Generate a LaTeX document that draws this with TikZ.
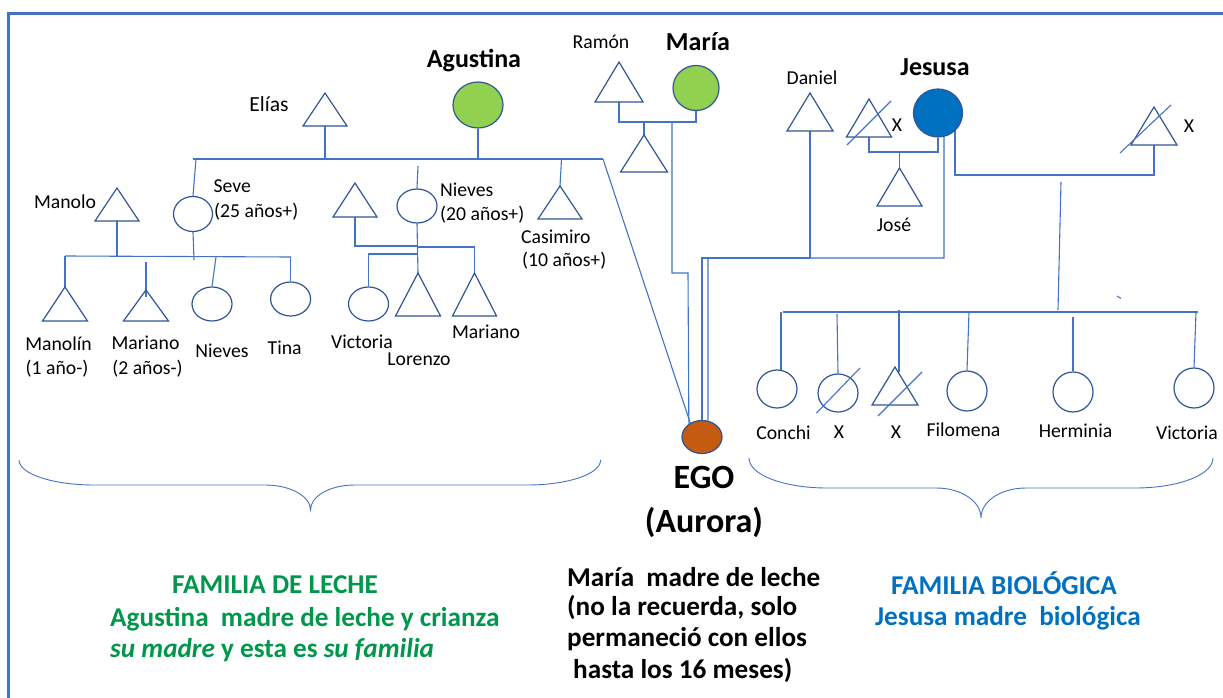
\documentclass[tikz,border=0pt]{standalone}
\usepackage{fontspec}
\setmainfont{Carlito}
\usetikzlibrary{shapes.geometric}
\definecolor{lineblue}{HTML}{4472C4}
\definecolor{shapeblue}{HTML}{2F5597}
\definecolor{lgreen}{HTML}{92D050}
\definecolor{jblue}{HTML}{0070C0}
\definecolor{egoor}{HTML}{C55A11}
\definecolor{tgreen}{HTML}{00964B}
\pgfdeclarelayer{bg}\pgfsetlayers{bg,main}
\newcommand\tri[5]{%
  \draw[shp] ({#2-#5},#4) -- (#2,#3) -- ({#2+#5},#4) -- cycle;
  \coordinate (#1-t) at (#2,#3);
  \coordinate (#1-b) at (#2,#4);}
\tikzset{
  ln/.style={draw=lineblue, line width=1.1pt},
  shp/.style={draw=shapeblue, line width=1.2pt, line join=miter},
  person/.style={ellipse, shp, fill=white, inner sep=0pt, minimum width=40, minimum height=34},
  lbl/.style={inner sep=0pt, font=\fontsize{19.7}{23}\selectfont},
  bname/.style={inner sep=0pt, font=\fontsize{26}{30}\selectfont\bfseries},
  egot/.style={inner sep=0pt, font=\fontsize{34}{40}\selectfont\bfseries},
  btxt/.style={inner sep=0pt, font=\fontsize{27.2}{31}\selectfont\bfseries},
  brace/.style={draw=lineblue, line width=0.9pt},
  frameline/.style={draw=lineblue, line width=3pt}
}
\begin{document}
\begin{tikzpicture}[x=1pt,y=-1pt]
\useasboundingbox (0,0) rectangle (1223,698);
\draw[frameline] (8,698) -- (8,14) -- (1223,14);

% ---------- left family (familia de leche) ----------
\tri{elias}{325}{93}{126}{22}
\node[lbl] (lelias) at (269,104) {\fontsize{21.5}{25}\selectfont Elías};
\node[person, fill=lgreen, minimum width=50, minimum height=46] (agus) at (478,105) {};
\node[bname] (lagus) at (474,61) {Agustina};
\coordinate (topL) at (193,159);
\coordinate (topR) at (603,159);

\node[person, minimum width=39, minimum height=35] (seve) at (193,214) {};
\node[lbl, anchor=west] (lseve1) at (213.5,186) {Seve};
\node[lbl, anchor=west] (lseve2) at (214,212) {(25 años+)};
\tri{manolo}{117}{188}{221}{22}
\node[lbl] (lmanolo) at (65,202) {Manolo};

\tri{manolin}{65}{287}{321}{22.5}
\node[lbl] (lmanolin1) at (58.5,344) {Manolín};
\node[lbl] (lmanolin2) at (57,369) {(1 año-)};
\tri{mariano}{146}{290}{321}{22.5}
\node[lbl] (lmariano1) at (145.5,343) {Mariano};
\node[lbl] (lmariano2) at (147.5,369) {(2 años-)};
\node[person] (nieves2) at (212,304) {};
\node[lbl] (lnieves2) at (222,351) {Nieves};
\node[person] (tina) at (290.6,299) {};
\node[lbl] (ltina) at (284.7,348) {Tina};

\tri{nhus}{355}{183}{217}{22}
\node[person] (nieves) at (417,206) {};
\node[lbl, anchor=west] (lnieves1) at (440,190) {Nieves};
\node[lbl, anchor=west] (lnieves2b) at (440,215) {(20 años+)};
\node[person] (victl) at (368.5,304) {};
\node[lbl] (lvictl) at (362,342) {Victoria};
\tri{lorenzo}{418}{273}{316}{22.5}
\node[lbl] (llorenzo) at (419,359) {Lorenzo};
\tri{mariano2}{474.5}{273}{316}{22}
\node[lbl] (lmariano3) at (486,332) {Mariano};
\tri{casimiro}{560}{186}{219}{22}
\node[lbl, anchor=west] (lcas1) at (521,237) {Casimiro};
\node[lbl, anchor=west] (lcas2) at (522,261) {(10 años+)};

% ---------- Ramón / María ----------
\tri{ramon}{619}{62}{102}{24}
\node[lbl] (lramon) at (601,42) {Ramón};
\node[person, fill=lgreen, minimum width=46, minimum height=45] (maria) at (696,88) {};
\node[bname] (lmaria) at (698,42) {María};
\tri{mchild}{644}{135}{172}{23.5}

% ---------- EGO ----------
\node[person, fill=egoor, minimum width=40, minimum height=33] (ego) at (702,437) {};
\node[egot] (lego1) at (704,477) {EGO};
\node[egot] (lego2) at (704,522) {(Aurora)};

% ---------- biological family ----------
\tri{daniel}{810}{93}{131}{23}
\node[lbl] (ldaniel) at (812,78) {Daniel};
\tri{jhus}{869}{99}{137}{22.5}
\draw[ln] (847,145) -- (891,101);
\node[lbl] (ljhus) at (897,125) {X};
\node[person, fill=jblue, minimum width=49, minimum height=48] (jesusa) at (938,113) {};
\node[bname] (ljesusa) at (935,67) {Jesusa};
\tri{jose}{899.5}{168}{206}{22.5}
\node[lbl] (ljose) at (894,225) {José};
\tri{jhus2}{1154}{107}{145}{23}
\draw[ln] (1120,153) -- (1171,105);
\node[lbl] (ljhus2) at (1189,126) {X};

\node[person, minimum height=38] (conchi) at (777,389) {};
\node[lbl] (lconchi) at (783.5,433) {Conchi};
\node[person, minimum height=38] (xc) at (838,393) {};
\draw[ln] (816.5,413) -- (860,368);
\node[lbl] (lxc) at (839,432) {X};
\tri{xt}{895}{367}{405}{23}
\draw[ln] (878,416) -- (922,372);
\node[lbl] (lxt) at (896,432) {X};
\node[person, minimum height=40] (filomena) at (967,391) {};
\node[lbl] (lfilomena) at (963.5,430) {Filomena};
\node[person, minimum height=40] (herminia) at (1073,392) {};
\node[lbl] (lherminia) at (1075.5,431) {Herminia};
\node[person, minimum height=40] (victr) at (1194,388) {};
\node[lbl] (lvictr) at (1187,433) {Victoria};

% ---------- connectors ----------
\begin{pgfonlayer}{bg}
\draw[ln] (topL) -- (topR);
\draw[ln] (elias-b) -- (elias-b |- topL);
\draw[ln] (agus.south) -- (agus.south |- topL);
\draw[ln] (topR) -- (ego.130);
\draw[ln] (196,159) -- (seve.north);
\draw[ln] (seve.south) -- (194,260);
\draw[ln] (manolo-b) -- (117,256);
\draw[ln] (65,256) -- (291,257);
\draw[ln] (65,256) -- (manolin-t);
\draw[ln] (146,262) -- (146,297);
\draw[ln] (216,257) -- (nieves2.north);
\draw[ln] (290.6,257) -- (tina.north);
\draw[ln] (nhus-b) -- (355,246) -- (418,246);
\draw[ln] (418,166) -- (nieves.north);
\draw[ln] (nieves.south) -- (lorenzo-t);
\draw[ln] (418,247) -| (mariano2-t);
\draw[ln] (418,254) -| (victl.north);
\draw[ln] (561.5,159) -- (casimiro-t);

\draw[ln] (ramon-b) -- (619,122) -| (maria.south);
\draw[ln] (644,122) -- (mchild-t);
\draw[ln] (672,122) -- (672,273) -- (688,273) -- (ego.135);

\draw[ln] (ego.north) -- (702,258) -| (daniel-b);
\draw[ln] (ego.70) -- (708,258) -- (944,258) -- (944,130);
\draw[ln] (jhus-b) -- (869,152) -| (jesusa.south);
\draw[ln] (899.5,152) -- (jose-t);
\draw[ln] (955,128) -- (955,175) -| (jhus2-b);
\draw[ln] (1061,182) -- (1058,310);
\draw[ln] (1117,296) -- (1121,298.5);
\draw[ln] (783,312) -- (1198,312);
\draw[ln] (781,312) -- (781,372);
\draw[ln] (837,314) -- (xc.north);
\draw[ln] (899,310) -- (899,372);
\draw[ln] (969,312) -- (filomena.north);
\draw[ln] (1073,317) -- (herminia.north);
\draw[ln] (1196,312) -- (victr.north);
\end{pgfonlayer}

% ---------- braces ----------
\draw[brace] (19,460) .. controls (19,474) and (53,485) .. (94,485) -- (265,485)
  .. controls (290,485) and (310.5,496) .. (310.5,510)
  .. controls (310.5,496) and (330,485) .. (355,485) -- (527,485)
  .. controls (568,485) and (600.6,474) .. (600.6,460);
\draw[brace] (749,458) .. controls (749,475) and (784,488) .. (827,488) -- (936,488)
  .. controls (961,488) and (981,501) .. (981,518)
  .. controls (981,501) and (1001,488) .. (1026,488) -- (1135,488)
  .. controls (1178,488) and (1213,475) .. (1213,458);

% ---------- bottom texts ----------
\node[btxt, text=tgreen, anchor=west] (t1) at (172,585) {FAMILIA DE LECHE};
\node[btxt, text=tgreen, anchor=west] (t2) at (110,619) {Agustina\ \ madre de leche y crianza};
\node[btxt, text=tgreen, anchor=west] (t3) at (110,650) {\textit{su madre} y esta es \textit{su familia}};
\node[btxt, anchor=west] (m1) at (567,577) {María\ \ madre de leche};
\node[btxt, anchor=west] (m2) at (567,607) {(no la recuerda, solo};
\node[btxt, anchor=west] (m3) at (567,639) {permaneció con ellos};
\node[btxt, anchor=west] (m4) at (573,670) {hasta los 16 meses)};
\node[btxt, text=jblue, anchor=west] (b1) at (891,583) {FAMILIA BIOLÓGICA};
\node[btxt, text=jblue, anchor=west] (b2) at (875,618) {Jesusa madre\ \ biológica};
\end{tikzpicture}
\end{document}
